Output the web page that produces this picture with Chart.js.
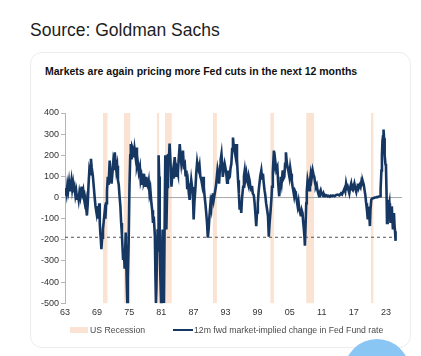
<!DOCTYPE html>
<html><head><meta charset="utf-8">
<script src="https://cdn.jsdelivr.net/npm/chart.js@4.4.1/dist/chart.umd.min.js"></script>
<style>
html,body{margin:0;padding:0;background:#fff;width:421px;height:356px;overflow:hidden;font-family:"Liberation Sans",Arial,sans-serif;}
#src{position:absolute;left:30px;top:20px;font-size:17.5px;line-height:20px;color:#1d1d1d;white-space:nowrap;}
#card{position:absolute;left:30px;top:52px;width:379px;height:294px;border:1px solid #ececec;border-radius:12px;box-sizing:content-box;}
#title{position:absolute;left:45px;top:64.7px;font-size:10.5px;line-height:12.6px;font-weight:bold;color:#111;white-space:nowrap;}
#chart{position:absolute;left:30px;top:52px;}
.lgt{position:absolute;top:324.7px;font-size:8.7px;line-height:10px;color:#4a4a4a;white-space:nowrap;}
.lgb{position:absolute;}
#dot{position:absolute;left:344px;top:339px;width:66px;height:66px;border-radius:50%;background:#8ac6f3;}
</style></head>
<body>
<div id="src">Source: Goldman Sachs</div>
<div id="card"></div>
<div id="title"></div>
<canvas id="chart" width="380" height="295" style="width:380px;height:295px"></canvas>
<div id="legend"></div>
<div id="dot"></div>
<script>
const TITLE = "Markets are again pricing more Fed cuts in the next 12 months";
const SERIES_LABEL = "12m fwd market-implied change in Fed Fund rate";
const RECESSION_LABEL = "US Recession";
const NAVY = "#173763";
const PEACH = "#fae3d3";

const dates = [
1963.0,1963.15,1963.3,1963.45,1963.6,1963.75,1963.9,
1964.05,1964.2,1964.35,1964.5,1964.65,1964.8,1964.95,
1965.1,1965.25,1965.4,1965.55,1965.7,1965.85,
1966.0,1966.1,1966.25,1966.4,1966.55,1966.7,1966.85,
1967.0,1967.1,1967.25,1967.4,1967.55,1967.7,1967.85,
1968.0,1968.2,1968.35,1968.55,1968.7,1968.9,
1969.05,1969.25,1969.4,1969.5,1969.6,1969.7,1969.8,1969.95,
1970.1,1970.25,1970.4,1970.55,1970.7,1970.85,
1971.0,1971.15,1971.35,1971.5,1971.7,1971.85,
1972.0,1972.15,1972.3,1972.45,1972.6,1972.75,1972.9,
1973.05,1973.2,1973.35,1973.5,1973.65,1973.85,
1974.0,1974.15,1974.35,1974.45,1974.55,1974.65,1974.75,1974.9,
1975.05,1975.2,1975.3,1975.45,1975.55,1975.7,1975.85,
1976.0,1976.15,1976.3,1976.45,1976.6,1976.8,
1977.0,1977.15,1977.3,1977.45,1977.6,1977.75,1977.9,
1978.05,1978.2,1978.35,1978.5,1978.65,1978.8,1978.95,
1979.15,1979.3,1979.45,1979.6,1979.8,1979.9,
1980.0,1980.1,1980.2,1980.3,1980.4,1980.5,1980.6,1980.7,1980.8,1980.95,
1981.1,1981.25,1981.4,1981.5,1981.6,1981.75,1981.85,1981.95,
1982.1,1982.25,1982.4,1982.55,1982.7,1982.9,
1983.05,1983.2,1983.35,1983.5,1983.65,1983.8,1983.95,
1984.1,1984.25,1984.45,1984.6,1984.75,1984.9,
1985.05,1985.2,1985.4,1985.55,1985.7,1985.85,
1986.0,1986.15,1986.3,1986.45,1986.6,1986.75,1986.9,
1987.05,1987.2,1987.4,1987.55,1987.7,1987.85,
1988.0,1988.15,1988.3,1988.5,1988.65,1988.8,1988.95,
1989.1,1989.25,1989.4,1989.55,1989.7,1989.85,
1990.0,1990.2,1990.35,1990.5,1990.65,1990.8,
1991.0,1991.2,1991.35,1991.5,1991.65,1991.8,
1992.0,1992.1,1992.25,1992.4,1992.5,1992.65,1992.85,
1993.0,1993.15,1993.3,1993.45,1993.6,1993.8,1993.95,
1994.1,1994.25,1994.4,1994.55,1994.7,1994.85,
1995.0,1995.15,1995.35,1995.5,1995.65,1995.8,1995.95,
1996.1,1996.3,1996.45,1996.6,1996.75,1996.9,
1997.05,1997.2,1997.35,1997.5,1997.65,1997.8,1997.95,
1998.1,1998.3,1998.45,1998.6,1998.75,1998.9,
1999.05,1999.2,1999.35,1999.5,1999.7,1999.85,
2000.0,2000.15,2000.3,2000.45,2000.6,2000.8,2000.95,
2001.1,2001.25,2001.45,2001.6,2001.7,2001.85,
2002.05,2002.2,2002.3,2002.5,2002.7,2002.85,2002.95,
2003.05,2003.2,2003.35,2003.5,2003.7,2003.85,
2004.0,2004.15,2004.3,2004.45,2004.6,2004.8,2004.95,
2005.1,2005.25,2005.4,2005.55,2005.7,2005.85,
2006.0,2006.15,2006.3,2006.5,2006.65,2006.8,2006.95,
2007.1,2007.25,2007.4,2007.5,2007.6,2007.75,2007.85,2007.95,
2008.1,2008.2,2008.35,2008.5,2008.65,2008.8,2008.95,
2009.1,2009.3,2009.45,2009.6,2009.75,2009.9,
2010.05,2010.2,2010.35,2010.5,2010.65,2010.8,2010.95,
2011.15,2011.3,2011.45,2011.6,2011.75,2011.9,
2012.1,2012.3,2012.5,2012.7,2012.9,
2013.1,2013.4,2013.7,
2014.0,2014.3,2014.6,2014.8,
2015.0,2015.25,2015.4,2015.55,2015.7,2015.85,
2016.0,2016.15,2016.3,2016.5,2016.65,2016.8,2016.95,
2017.1,2017.3,2017.45,2017.6,2017.75,2017.9,
2018.1,2018.25,2018.4,2018.55,2018.7,2018.85,
2019.0,2019.15,2019.3,2019.45,2019.6,2019.7,2019.8,2019.9,
2020.0,2020.1,2020.25,2020.4,2020.6,2020.75,2020.9,
2021.1,2021.25,2021.4,2021.6,2021.75,2021.9,
2022.0,2022.15,2022.25,2022.35,2022.45,2022.55,2022.65,2022.72,2022.8,2022.9,
2023.0,2023.1,2023.2,2023.28,2023.35,2023.5,2023.65,2023.75,2023.85,2023.95,
2024.1,2024.2,2024.3,2024.4,2024.5,2024.6,2024.7,2024.8
];

const values = [
15,45,20,60,35,70,30,
55,82,40,65,25,45,10,
30,-5,15,-10,25,5,
40,52,20,35,-5,-27,-10,
-60,-85,-30,60,128,110,183,
140,105,60,0,-40,-73,
-40,-100,-27,-120,-166,-200,-244,-190,
-151,-110,-73,-100,-27,30,
98,60,175,120,66,110,
160,130,214,170,128,150,82,
60,6,-40,-120,-180,-290,
-250,-337,-166,-300,-414,-500,-380,-213,
50,200,253,180,240,229,190,
230,200,237,150,167,120,
144,80,98,60,113,70,82,
50,98,60,51,75,20,40,
-27,-60,-120,-90,-181,-366,
-500,-420,-250,-150,-220,200,100,-200,-350,-500,
-300,-151,-280,-500,-200,200,82,-151,
50,206,160,255,180,51,
100,128,90,191,150,98,130,
113,180,253,200,160,190,
222,150,160,100,128,40,
66,20,-11,40,82,50,20,
-104,-20,51,120,167,140,
128,150,100,82,60,98,50,
6,-30,-73,-120,-190,-151,
-90,-27,-50,6,20,-11,
20,51,90,128,100,66,
150,180,206,150,98,130,160,
140,113,70,128,90,98,140,
160,230,284,240,222,200,
253,180,82,20,-57,-20,-73,
0,51,100,128,90,113,
80,66,100,82,50,35,55,
20,10,-27,-80,-135,-70,
-27,30,66,100,128,90,
113,70,35,10,-27,-60,-89,
-185,-120,-57,0,51,120,
222,160,175,130,144,70,35,
6,60,98,70,128,90,
98,160,214,170,144,120,98,
140,113,80,51,30,6,
30,20,-10,-42,-20,-57,-70,
-89,-60,-73,-110,-135,-180,-228,-150,
-27,30,82,60,35,80,113,
90,128,110,98,70,51,
60,35,20,6,25,35,20,
12,20,6,12,8,10,
5,8,4,9,6,
10,6,12,
14,10,20,15,
28,43,30,66,45,51,
35,20,45,66,40,35,50,
66,40,27,50,66,45,
59,50,74,60,74,60,
35,10,-27,-60,-104,-70,-42,-90,
-135,-60,-11,-5,-3,-3,0,
0,2,2,4,5,6,
40,128,200,268,290,322,280,253,200,160,
150,35,-120,-40,-11,-50,-27,-80,-120,-60,
-42,-100,-151,-90,-73,-130,-160,-205
];

const recessions = [
  [1970.1,1970.95],[1974.0,1975.2],[1980.2,1980.6],[1981.7,1982.95],
  [1990.65,1991.4],[2001.4,2002.05],[2008.1,2009.55],[2020.2,2020.65]
];
const latestLevel = -188;
const xTicks = [1963,1969,1975,1981,1987,1993,1999,2005,2011,2017,2023];
const yTicks = [400,300,200,100,0,-100,-200,-300,-400,-500];

const FONT = '"Liberation Sans", Arial, sans-serif';

document.getElementById('title').textContent = TITLE;

const bandPlugin = {
  id: 'bands',
  beforeDatasetsDraw(chart) {
    const {ctx, chartArea, scales} = chart;
    const xs = scales.x;
    ctx.save();
    ctx.fillStyle = PEACH;
    recessions.forEach(([s, e]) => {
      const x1 = xs.getPixelForValue(s), x2 = xs.getPixelForValue(e);
      ctx.fillRect(x1, chartArea.top, x2 - x1, chartArea.bottom - chartArea.top);
    });
    ctx.restore();
  }
};

const chart = new Chart(document.getElementById('chart'), {
  type: 'line',
  data: {
    datasets: [
      { label: SERIES_LABEL, data: dates.map((d, i) => ({x: d, y: values[i]})),
        borderColor: NAVY, backgroundColor: NAVY, borderWidth: 2.6, pointRadius: 0, tension: 0, order: 0 },
      { label: 'latest', data: [{x: dates[0], y: latestLevel}, {x: dates[dates.length - 1], y: latestLevel}],
        borderColor: '#555', borderWidth: 1, borderDash: [3, 3], pointRadius: 0, order: 1 },
      { label: 'zero', data: [{x: xTicks[0], y: 0}, {x: 2026, y: 0}],
        borderColor: '#a8a8a8', borderWidth: 1, pointRadius: 0, order: 2 }
    ]
  },
  options: {
    responsive: false, animation: false, devicePixelRatio: 1,
    layout: { padding: { left: 0, right: 8, top: 61, bottom: 25 } },
    plugins: {
      legend: { display: false },
      tooltip: { enabled: false },
      title: { display: false }
    },
    scales: {
      x: { type: 'linear', min: 1963, max: 2026,
        afterBuildTicks: s => { s.ticks = xTicks.map(v => ({value: v})); },
        ticks: { autoSkip: false, maxRotation: 0, padding: 4, color: '#333',
          font: { family: FONT, size: 9 }, callback: v => String(v).slice(2) },
        grid: { display: false, drawTicks: false }, border: { display: false } },
      y: { min: -500, max: 400,
        afterBuildTicks: s => { s.ticks = yTicks.map(v => ({value: v})); },
        afterFit: s => { s.width = 35; },
        ticks: { color: '#333', padding: 2, font: { family: FONT, size: 9 },
          callback: v => (v < 0 ? '-' + Math.abs(v) : String(v)) },
        grid: { drawOnChartArea: false, drawTicks: true, tickLength: 4, color: '#b5b5b5' },
        border: { display: true, color: '#b5b5b5' } }
    }
  },
  plugins: [bandPlugin]
});

// HTML legend
const lg = document.getElementById('legend');
lg.innerHTML =
  '<div class="lgb" style="left:69.5px;top:326.5px;width:18px;height:6px;background:' + PEACH + '"></div>' +
  '<div class="lgt" style="left:90px">' + RECESSION_LABEL + '</div>' +
  '<div class="lgb" style="left:172.7px;top:328.7px;width:20px;height:2px;background:' + NAVY + '"></div>' +
  '<div class="lgt" style="left:194px">' + SERIES_LABEL + '</div>';
</script>
</body></html>
